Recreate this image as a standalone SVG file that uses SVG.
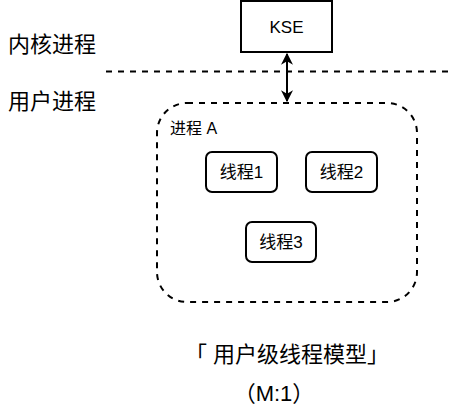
<svg xmlns="http://www.w3.org/2000/svg" width="468" height="412" viewBox="0 0 468 412">
<style>
text{font-family:"Liberation Sans","Noto Sans CJK SC",sans-serif;fill:#000}
.lbl{font-size:22px}
.th{fill:#fff;stroke:#000;stroke-width:2}
.tt{font-size:17px;text-anchor:middle}
</style>
<defs>
<marker id="ah" viewBox="0 0 10 10" refX="9" refY="5" markerWidth="6" markerHeight="6" orient="auto-start-reverse">
<path d="M0,0 L10,5 L0,10 L3,5 Z" fill="#000"/>
</marker>
</defs>
<rect width="468" height="412" fill="#fff"/>
<g id="labels">
<text class="lbl" x="8" y="52">内核进程</text>
<text class="lbl" x="8" y="109">用户进程</text>
</g>
<g id="connectors">
<line x1="106" y1="71.5" x2="452" y2="71.5" stroke="#000" stroke-width="2" stroke-dasharray="6,6"/>
<line x1="287" y1="54" x2="287" y2="101" stroke="#000" stroke-width="2" marker-start="url(#ah)" marker-end="url(#ah)"/>
</g>
<g id="kse">
<rect x="241" y="1" width="91" height="51" fill="#fff" stroke="#000" stroke-width="2"/>
<text x="286.5" y="33" font-size="17" text-anchor="middle">KSE</text>
</g>
<g id="processA">
<rect x="157" y="103" width="260" height="199" rx="30" fill="none" stroke="#000" stroke-width="2" stroke-dasharray="6,6"/>
<text x="170" y="134" font-size="16">进程 A</text>
</g>
<g id="thread1">
<rect class="th" x="206" y="152" width="71" height="40" rx="6"/>
<text class="tt" x="241.5" y="178">线程1</text>
</g>
<g id="thread2">
<rect class="th" x="306" y="152" width="71" height="40" rx="6"/>
<text class="tt" x="341.5" y="178">线程2</text>
</g>
<g id="thread3">
<rect class="th" x="246" y="222" width="70" height="40" rx="6"/>
<text class="tt" x="281" y="248">线程3</text>
</g>
<g id="title">
<text x="287" y="362" font-size="22" text-anchor="middle">「 用户级线程模型」</text>
<text x="274" y="401" font-size="22" text-anchor="middle">（M:1）</text>
</g>
</svg>
